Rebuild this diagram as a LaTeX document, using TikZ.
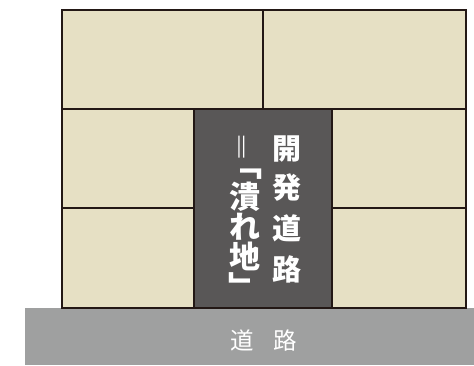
\documentclass[tikz,border=0pt]{standalone}
\usepackage{fontspec}
\newfontfamily\cjk{Noto Sans CJK JP}
\definecolor{cream}{HTML}{E6E0C4}
\definecolor{darklot}{HTML}{595757}
\definecolor{edge}{HTML}{231815}
\definecolor{road}{HTML}{9FA0A0}
\tikzset{
  lot/.style={draw=edge, line width=2.4pt, fill=cream},
  devlot/.style={draw=edge, line width=2.4pt, fill=darklot},
  emchar/.style={text=white, inner sep=0pt, anchor=base},
  bigchar/.style={emchar, font=\cjk\bfseries\fontsize{29}{29}\selectfont},
  leftchar/.style={emchar, font=\cjk\bfseries\fontsize{31}{31}\selectfont},
  roadtext/.style={emchar, font=\cjk\fontsize{23.5}{23.5}\selectfont},
}
\begin{document}
\begin{tikzpicture}[x=1pt,y=-1pt]
\useasboundingbox (0,0) rectangle (474,365);
% road
\fill[road] (25,308) rectangle (474,365);
\node[roadtext] (roadlabel) at (263.75,349.5) {道\hspace{19pt}路};
% lots
\draw[lot] (62,10) rectangle (263,109);
\draw[lot] (263,10) rectangle (466,109);
\draw[lot] (62,109) rectangle (194,208);
\draw[lot] (62,208) rectangle (194,308);
\draw[lot] (332,109) rectangle (466,208);
\draw[lot] (332,208) rectangle (466,308);
\draw[devlot] (194,109) rectangle (332,308);
% right column
\node[bigchar] (k1) at (286.5,159) {開};
\node[bigchar] (k2) at (286.5,198) {発};
\node[bigchar] (k3) at (286.5,239) {道};
\node[bigchar] (k4) at (286.5,280.5) {路};
% left column
\node[emchar, xscale=1.3, font=\cjk\bfseries\fontsize{22}{22}\selectfont] (e1) at (241.3,155.5) {‖};
\node[leftchar] (b1) at (247,176) {﹁};
\node[leftchar] (t1) at (244.5,208) {潰};
\node[leftchar] (t2) at (244.5,238) {れ};
\node[leftchar] (t3) at (244.5,268) {地};
\node[leftchar] (b2) at (244,298) {﹂};
\end{tikzpicture}
\end{document}
